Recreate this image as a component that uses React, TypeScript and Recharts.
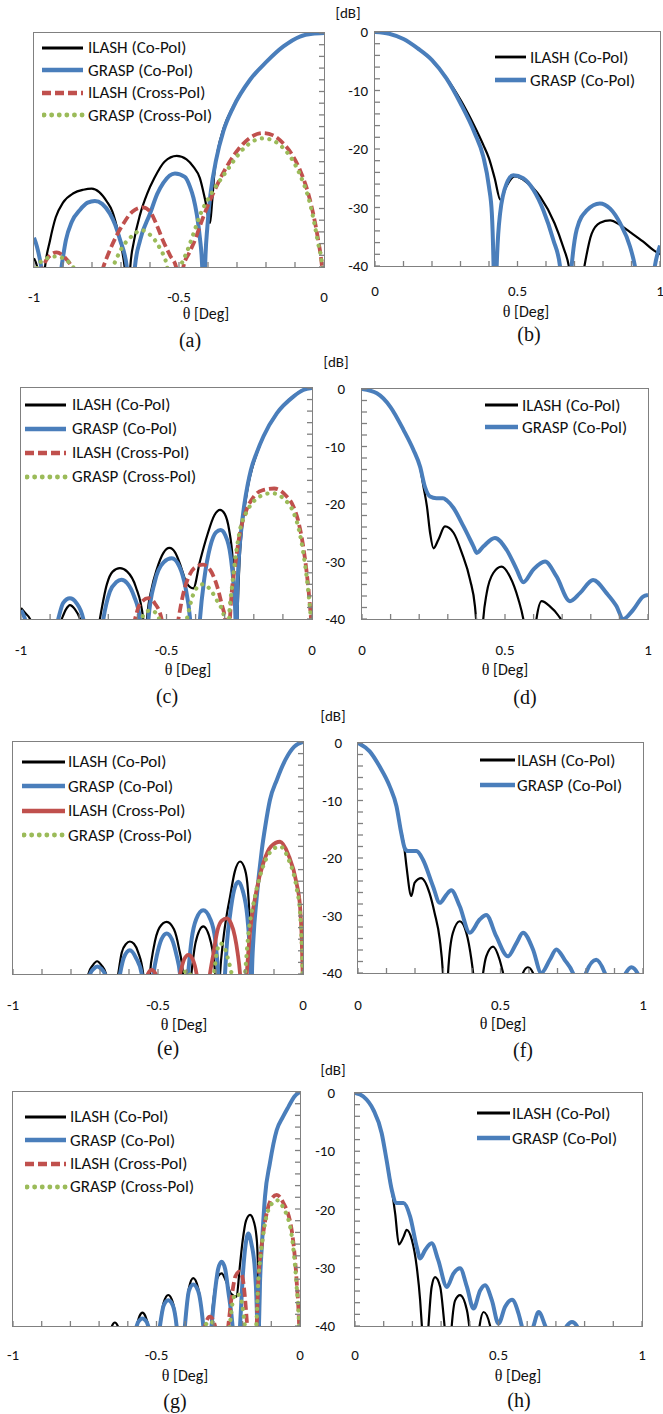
import React from "react";
import { LineChart, Line, XAxis, YAxis, Legend } from "recharts";

type Pt = [number, number];

// ---- tick values ----
const X_TICKS_NEG = [-1, -0.9, -0.8, -0.7, -0.6, -0.5, -0.4, -0.3, -0.2, -0.1, 0];
const X_TICKS_POS = [0, 0.1, 0.2, 0.3, 0.4, 0.5, 0.6, 0.7, 0.8, 0.9, 1];
const X_LABELS_NEG = [-1, -0.5, 0];
const X_LABELS_POS = [0, 0.5, 1];
const Y_TICKS = [0, -2, -4, -6, -8, -10, -12, -14, -16, -18, -20, -22, -24, -26, -28, -30, -32, -34, -36, -38, -40];
const Y_LABELS = [0, -10, -20, -30, -40];

// ---- (a) ----
const aIlashCo: Pt[] = [[-1,-38.5],[-0.985,-41],[-0.975,-48],[-0.962,-40],[-0.945,-35.5],[-0.925,-31.5],[-0.9,-29],[-0.864,-27.4],[-0.83,-26.8],[-0.801,-26.6],[-0.775,-27.2],[-0.749,-28.8],[-0.73,-30.5],[-0.715,-33],[-0.695,-37.5],[-0.684,-42],[-0.676,-50],[-0.668,-40],[-0.655,-35.5],[-0.634,-31],[-0.61,-27.5],[-0.585,-24.8],[-0.55,-22],[-0.508,-21],[-0.474,-21.6],[-0.45,-22.9],[-0.428,-24.8],[-0.41,-28.5],[-0.393,-32.5],[-0.386,-29],[-0.378,-24],[-0.366,-20],[-0.347,-16.4],[-0.313,-12.5],[-0.255,-8],[-0.198,-4.9],[-0.14,-2.3],[-0.083,-0.6],[-0.04,-0.12],[0,0]];
const aGraspCo: Pt[] = [[-1,-35],[-0.99,-36.5],[-0.975,-40],[-0.94,-55],[-0.905,-40],[-0.89,-35.4],[-0.87,-32.3],[-0.841,-30.2],[-0.815,-29],[-0.79,-28.7],[-0.765,-29.2],[-0.738,-30.9],[-0.72,-32.8],[-0.703,-35.4],[-0.68,-40],[-0.666,-55],[-0.652,-40],[-0.634,-35.4],[-0.6,-30.9],[-0.575,-27.5],[-0.554,-25.6],[-0.514,-24],[-0.48,-24.6],[-0.462,-26.3],[-0.45,-28.2],[-0.439,-30.9],[-0.428,-35],[-0.42,-40],[-0.415,-55],[-0.41,-40],[-0.402,-33],[-0.39,-27],[-0.372,-21.7],[-0.347,-16.8],[-0.313,-12.7],[-0.255,-8],[-0.198,-4.9],[-0.14,-2.3],[-0.083,-0.6],[-0.04,-0.12],[0,0]];
const aIlashX: Pt[] = [[-1,-48],[-0.968,-40],[-0.95,-38.3],[-0.922,-37.5],[-0.895,-38.3],[-0.87,-40],[-0.815,-50],[-0.761,-40],[-0.74,-37.3],[-0.715,-34.6],[-0.692,-32.6],[-0.66,-30.5],[-0.625,-29.8],[-0.6,-30.5],[-0.577,-32.8],[-0.555,-35.5],[-0.531,-38],[-0.51,-40],[-0.497,-50],[-0.485,-40],[-0.465,-37.6],[-0.45,-36],[-0.416,-31.4],[-0.382,-27.4],[-0.336,-22.9],[-0.278,-18.9],[-0.245,-17.6],[-0.209,-17.1],[-0.175,-17.5],[-0.14,-18.9],[-0.11,-20.8],[-0.083,-23.4],[-0.048,-28.6],[-0.02,-35.4],[-0.008,-39.4],[0,-44]];
const aGraspX: Pt[] = [[-1,-48],[-0.99,-40],[-0.96,-38.6],[-0.924,-38.2],[-0.89,-38.8],[-0.865,-40],[-0.8,-50],[-0.728,-40],[-0.7,-37],[-0.657,-34.5],[-0.63,-33.7],[-0.6,-34.5],[-0.566,-36.8],[-0.541,-40],[-0.518,-50],[-0.493,-40],[-0.474,-37.6],[-0.45,-34.3],[-0.428,-31.2],[-0.39,-27.6],[-0.336,-23.6],[-0.278,-19.8],[-0.245,-18.5],[-0.209,-18],[-0.175,-18.4],[-0.14,-19.7],[-0.11,-21.6],[-0.083,-24.2],[-0.048,-29.2],[-0.02,-36],[-0.006,-40],[0,-44]];

// ---- (b) ----
const bIlashCo: Pt[] = [[0,0],[0.05,-0.3],[0.1,-1.2],[0.15,-2.8],[0.2,-4.9],[0.25,-7.8],[0.3,-11.6],[0.35,-16.2],[0.38,-19.3],[0.4,-21.6],[0.42,-25],[0.44,-28.7],[0.46,-26.5],[0.49,-24.7],[0.53,-25.6],[0.58,-28.2],[0.63,-32.7],[0.66,-36.7],[0.68,-40],[0.705,-50],[0.735,-40],[0.76,-34.5],[0.79,-32.6],[0.825,-32.2],[0.86,-33],[0.895,-34.2],[0.94,-35.8],[0.977,-37.3],[1,-38]];
const bGraspCo: Pt[] = [[0,0],[0.05,-0.3],[0.1,-1.2],[0.15,-2.8],[0.2,-4.8],[0.25,-7.9],[0.3,-12.2],[0.35,-17.3],[0.38,-21.3],[0.4,-26.5],[0.41,-31],[0.416,-40],[0.421,-55],[0.427,-40],[0.439,-31],[0.462,-25.9],[0.485,-24.5],[0.52,-25],[0.556,-27],[0.591,-30.5],[0.626,-35.6],[0.649,-40],[0.67,-55],[0.69,-40],[0.708,-33.7],[0.743,-30.5],[0.789,-29.3],[0.825,-30.2],[0.86,-32.7],[0.895,-36.7],[0.912,-40],[0.95,-55],[0.982,-40],[1,-36.5]];

// ---- (c) ----
const cIlashCo: Pt[] = [[-1,-38.1],[-0.985,-39],[-0.969,-40],[-0.93,-50],[-0.86,-40],[-0.845,-38.3],[-0.832,-37.6],[-0.815,-38.3],[-0.797,-40],[-0.76,-50],[-0.729,-40],[-0.705,-34],[-0.685,-31.8],[-0.66,-31.2],[-0.635,-31.8],[-0.605,-34.5],[-0.58,-40],[-0.574,-50],[-0.567,-40],[-0.55,-34.5],[-0.534,-31.5],[-0.51,-28.5],[-0.49,-27.7],[-0.47,-28.5],[-0.45,-31],[-0.431,-33.8],[-0.408,-34.7],[-0.385,-30],[-0.36,-25.5],[-0.335,-22],[-0.316,-21.1],[-0.3,-21.8],[-0.285,-24.5],[-0.272,-30],[-0.264,-38],[-0.26,-50],[-0.255,-38],[-0.249,-30],[-0.24,-24],[-0.228,-19.5],[-0.218,-16.5],[-0.205,-13.8],[-0.187,-11],[-0.165,-8.2],[-0.12,-4.3],[-0.064,-1.4],[-0.03,-0.3],[0,0]];
const cGraspCo: Pt[] = [[-1,-38.5],[-0.99,-39.5],[-0.975,-42],[-0.93,-55],[-0.872,-40],[-0.855,-37.2],[-0.832,-36.4],[-0.81,-37.2],[-0.786,-40],[-0.75,-55],[-0.717,-40],[-0.695,-35.3],[-0.672,-33.6],[-0.655,-33.2],[-0.635,-33.8],[-0.612,-36],[-0.591,-40],[-0.576,-55],[-0.562,-40],[-0.54,-33.5],[-0.51,-30.2],[-0.482,-29.5],[-0.455,-31],[-0.435,-34.5],[-0.419,-40],[-0.402,-55],[-0.385,-40],[-0.37,-33],[-0.35,-27.5],[-0.33,-25],[-0.314,-24.6],[-0.298,-25.5],[-0.28,-29],[-0.268,-35],[-0.263,-40],[-0.26,-52],[-0.258,-38],[-0.252,-30],[-0.243,-24.5],[-0.232,-20],[-0.222,-17],[-0.21,-14.2],[-0.19,-11.2],[-0.167,-8.4],[-0.121,-4.4],[-0.064,-1.5],[-0.03,-0.35],[0,0]];
const cIlashX: Pt[] = [[-0.64,-50],[-0.608,-40],[-0.59,-37.3],[-0.562,-36.4],[-0.54,-37.3],[-0.517,-40],[-0.49,-50],[-0.459,-40],[-0.445,-36.2],[-0.43,-33.5],[-0.4,-31],[-0.374,-30.6],[-0.35,-31.5],[-0.325,-34.5],[-0.31,-37.5],[-0.299,-40],[-0.29,-50],[-0.282,-40],[-0.276,-35.5],[-0.265,-31],[-0.248,-25.2],[-0.225,-21.1],[-0.2,-18.8],[-0.17,-17.7],[-0.13,-17.4],[-0.09,-18.6],[-0.064,-20.5],[-0.045,-23.5],[-0.03,-27.5],[-0.013,-34.4],[0,-42]];
const cGraspX: Pt[] = [[-0.6,-50],[-0.585,-40],[-0.57,-38.8],[-0.555,-38.5],[-0.54,-38.8],[-0.525,-40],[-0.48,-50],[-0.43,-40],[-0.41,-36],[-0.39,-34.3],[-0.375,-34],[-0.355,-34.6],[-0.33,-36.5],[-0.3,-40],[-0.292,-50],[-0.285,-40],[-0.275,-34.5],[-0.262,-29],[-0.245,-24],[-0.225,-21.5],[-0.18,-18.8],[-0.139,-18.2],[-0.09,-19.5],[-0.064,-21.5],[-0.045,-24.5],[-0.03,-28.5],[-0.013,-35],[0,-42]];

// ---- (d) ----
const dIlashCo: Pt[] = [[0,0],[0.052,-0.75],[0.099,-3.1],[0.145,-7.1],[0.18,-10.6],[0.203,-13.6],[0.215,-17],[0.227,-20.4],[0.238,-25],[0.25,-27.7],[0.267,-26.2],[0.29,-23.9],[0.32,-25],[0.349,-28.5],[0.378,-33.2],[0.395,-37.8],[0.402,-42],[0.413,-50],[0.424,-40],[0.436,-35.5],[0.459,-32],[0.488,-30.9],[0.517,-32.6],[0.547,-36.6],[0.564,-40],[0.59,-50],[0.61,-40],[0.628,-36.9],[0.657,-37.8],[0.685,-39.3],[0.703,-41],[0.72,-50]];
const dGraspCo: Pt[] = [[0,0],[0.052,-0.75],[0.099,-3.1],[0.145,-7.1],[0.18,-10.6],[0.203,-13.5],[0.22,-17],[0.238,-18.7],[0.26,-19],[0.283,-19],[0.297,-19.4],[0.32,-20.7],[0.355,-23.9],[0.39,-27.4],[0.401,-28.5],[0.424,-27.4],[0.465,-25.9],[0.506,-28],[0.541,-31.4],[0.564,-33.6],[0.599,-31.4],[0.64,-30],[0.68,-32.6],[0.727,-36.9],[0.762,-35.5],[0.808,-33.2],[0.855,-35.5],[0.89,-37.8],[0.913,-40],[0.948,-38.4],[0.983,-36.1],[1,-35.8]];

// ---- (e) ----
const eIlashCo: Pt[] = [[-0.76,-50],[-0.74,-40],[-0.725,-38.5],[-0.71,-37.8],[-0.695,-38.5],[-0.679,-40],[-0.66,-50],[-0.637,-40],[-0.625,-36.3],[-0.61,-34.8],[-0.597,-34.4],[-0.583,-34.8],[-0.568,-36.3],[-0.551,-40],[-0.54,-50],[-0.528,-40],[-0.515,-35.5],[-0.495,-32],[-0.47,-31],[-0.445,-32.3],[-0.428,-35.5],[-0.414,-40],[-0.403,-50],[-0.385,-40],[-0.37,-34.5],[-0.344,-31.8],[-0.318,-34.5],[-0.303,-40],[-0.295,-50],[-0.286,-40],[-0.275,-34.1],[-0.262,-29.5],[-0.252,-26.8],[-0.235,-22.3],[-0.217,-20.6],[-0.2,-22],[-0.19,-25.5],[-0.184,-31],[-0.18,-40],[-0.178,-52],[-0.176,-40],[-0.171,-34],[-0.16,-27],[-0.142,-18.6],[-0.13,-14.5],[-0.114,-10],[-0.09,-6.5],[-0.06,-3],[-0.03,-0.8],[0,0]];
const eGraspCo: Pt[] = [[-0.75,-50],[-0.734,-40],[-0.722,-39.1],[-0.709,-38.7],[-0.696,-39.1],[-0.683,-40],[-0.66,-50],[-0.631,-40],[-0.618,-37.2],[-0.597,-35.9],[-0.576,-37.2],[-0.556,-40],[-0.54,-50],[-0.516,-40],[-0.504,-36.8],[-0.488,-34],[-0.47,-33],[-0.452,-34],[-0.436,-36.8],[-0.424,-40],[-0.41,-50],[-0.396,-40],[-0.384,-34],[-0.368,-30.5],[-0.344,-29],[-0.32,-30.5],[-0.303,-34],[-0.292,-40],[-0.28,-50],[-0.269,-40],[-0.262,-34.5],[-0.252,-30],[-0.238,-25.6],[-0.223,-24.1],[-0.208,-25.6],[-0.192,-30.1],[-0.185,-34.5],[-0.18,-40],[-0.178,-52],[-0.176,-40],[-0.171,-34],[-0.16,-27],[-0.142,-18.6],[-0.13,-14.5],[-0.114,-10],[-0.09,-6.5],[-0.06,-3],[-0.03,-0.8],[0,0]];
const eIlashX: Pt[] = [[-0.55,-50],[-0.535,-40],[-0.522,-39.3],[-0.508,-40],[-0.46,-50],[-0.424,-40],[-0.41,-37.5],[-0.395,-36.7],[-0.38,-37.5],[-0.367,-40],[-0.345,-50],[-0.321,-40],[-0.309,-36.5],[-0.295,-32.5],[-0.28,-30.8],[-0.263,-30.4],[-0.248,-31.3],[-0.235,-33.5],[-0.225,-36.5],[-0.217,-40],[-0.205,-50],[-0.194,-40],[-0.183,-33],[-0.16,-25.5],[-0.137,-20.9],[-0.11,-18],[-0.079,-17.2],[-0.05,-19.5],[-0.022,-24.4],[-0.01,-28.5],[-0.005,-33],[0,-42]];
const eGraspX: Pt[] = [[-0.43,-50],[-0.41,-40],[-0.4,-39.4],[-0.39,-40],[-0.35,-50],[-0.307,-40],[-0.298,-36.5],[-0.286,-34.7],[-0.272,-35.3],[-0.258,-37.5],[-0.246,-40],[-0.22,-50],[-0.2,-40],[-0.19,-34],[-0.165,-26.5],[-0.14,-21.8],[-0.11,-18.8],[-0.079,-18],[-0.05,-20.2],[-0.022,-25.2],[-0.01,-29.5],[-0.005,-34],[0,-42]];

// ---- (f) ----
const fIlashCo: Pt[] = [[0,0],[0.041,-1.45],[0.076,-4.1],[0.111,-7.5],[0.135,-11],[0.152,-15.5],[0.162,-18],[0.17,-21.4],[0.187,-26.6],[0.199,-24.3],[0.222,-23.5],[0.251,-26.1],[0.269,-29.6],[0.287,-34.2],[0.298,-40],[0.307,-50],[0.316,-40],[0.333,-33],[0.357,-31],[0.38,-33],[0.398,-37.7],[0.404,-40],[0.42,-50],[0.439,-40],[0.45,-37.1],[0.474,-35.4],[0.497,-37.7],[0.509,-40],[0.55,-50],[0.579,-40],[0.596,-39],[0.614,-40],[0.64,-50]];
const fGraspCo: Pt[] = [[0,0],[0.041,-1.45],[0.076,-4.1],[0.111,-7.5],[0.135,-11],[0.152,-15.7],[0.164,-18.3],[0.175,-18.8],[0.205,-18.8],[0.228,-20.3],[0.263,-24.9],[0.287,-27.8],[0.31,-26.4],[0.327,-25.6],[0.357,-28.4],[0.392,-33],[0.427,-30.7],[0.45,-29.9],[0.485,-33.6],[0.526,-37.1],[0.556,-34.8],[0.579,-33],[0.614,-35.9],[0.643,-40],[0.673,-37.7],[0.696,-35.9],[0.725,-37.7],[0.754,-40],[0.777,-44],[0.8,-40],[0.836,-37.7],[0.866,-40],[0.9,-46],[0.94,-40],[0.959,-39],[0.98,-40],[1,-43]];

// ---- (g) ----
const gIlashCo: Pt[] = [[-0.665,-50],[-0.655,-40],[-0.645,-39.4],[-0.635,-40],[-0.6,-50],[-0.569,-40],[-0.559,-38.3],[-0.549,-37.7],[-0.539,-38.3],[-0.529,-40],[-0.51,-50],[-0.488,-40],[-0.475,-36],[-0.459,-34.7],[-0.443,-36],[-0.43,-40],[-0.415,-50],[-0.401,-40],[-0.387,-33.5],[-0.372,-31.8],[-0.355,-33.5],[-0.337,-40],[-0.322,-50],[-0.31,-40],[-0.296,-33.5],[-0.285,-31.5],[-0.273,-31],[-0.258,-32.3],[-0.24,-34.5],[-0.221,-35],[-0.21,-30],[-0.2,-25.5],[-0.188,-22],[-0.174,-21],[-0.16,-22.3],[-0.15,-25.6],[-0.146,-31],[-0.143,-40],[-0.141,-52],[-0.139,-32.1],[-0.133,-26.4],[-0.122,-17.9],[-0.105,-12.2],[-0.081,-6.5],[-0.06,-4.3],[-0.04,-2.5],[-0.02,-0.8],[0,0]];
const gGraspCo: Pt[] = [[-0.59,-50],[-0.569,-40],[-0.559,-39],[-0.549,-38.7],[-0.539,-39],[-0.529,-40],[-0.51,-50],[-0.488,-40],[-0.475,-36.5],[-0.459,-35.6],[-0.443,-36.5],[-0.43,-40],[-0.415,-50],[-0.401,-40],[-0.387,-34],[-0.372,-32.9],[-0.355,-34],[-0.337,-40],[-0.322,-50],[-0.308,-40],[-0.296,-34],[-0.285,-30.2],[-0.273,-29],[-0.261,-30.2],[-0.25,-34],[-0.235,-40],[-0.222,-50],[-0.209,-40],[-0.198,-30.5],[-0.19,-26.3],[-0.18,-24.2],[-0.169,-26],[-0.157,-30.5],[-0.149,-40],[-0.146,-52],[-0.143,-40],[-0.139,-32.1],[-0.133,-26.4],[-0.122,-17.9],[-0.105,-12.2],[-0.081,-6.5],[-0.06,-4.3],[-0.04,-2.5],[-0.02,-0.8],[0,0]];
const gIlashX: Pt[] = [[-0.35,-50],[-0.331,-40],[-0.314,-38.4],[-0.296,-40],[-0.275,-50],[-0.25,-40],[-0.238,-35],[-0.225,-31.5],[-0.211,-30.7],[-0.2,-31.8],[-0.192,-35],[-0.184,-40],[-0.17,-50],[-0.151,-40],[-0.145,-32.1],[-0.134,-26.4],[-0.116,-20.7],[-0.1,-18.3],[-0.081,-17.6],[-0.06,-18.8],[-0.029,-23.6],[-0.012,-32.1],[-0.003,-40],[0,-45]];
const gGraspX: Pt[] = [[-0.35,-50],[-0.331,-40],[-0.314,-39.2],[-0.296,-40],[-0.27,-50],[-0.245,-40],[-0.233,-35.5],[-0.221,-34.4],[-0.205,-35.5],[-0.192,-40],[-0.17,-50],[-0.152,-40],[-0.146,-33],[-0.136,-27.5],[-0.118,-21.5],[-0.1,-19.2],[-0.081,-18.5],[-0.06,-19.6],[-0.029,-24.5],[-0.012,-33],[-0.003,-40],[0,-45]];

// ---- (h) ----
const hIlashCo: Pt[] = [[0,0],[0.029,-0.6],[0.064,-2.9],[0.093,-6.9],[0.11,-11.5],[0.128,-16.6],[0.14,-20.7],[0.153,-26],[0.169,-24.7],[0.18,-23.5],[0.198,-25.2],[0.215,-29.8],[0.227,-35.6],[0.233,-40],[0.245,-50],[0.256,-40],[0.267,-33.3],[0.279,-31.6],[0.297,-33.3],[0.308,-37.9],[0.312,-40],[0.325,-50],[0.337,-40],[0.349,-35.6],[0.366,-34.7],[0.39,-37.3],[0.398,-40],[0.415,-50],[0.434,-40],[0.448,-37.6],[0.471,-40],[0.5,-50]];
const hGraspCo: Pt[] = [[0,0],[0.029,-0.6],[0.064,-2.9],[0.093,-6.9],[0.11,-11.5],[0.128,-16.6],[0.145,-18.9],[0.169,-18.9],[0.192,-21.2],[0.215,-26.4],[0.227,-28.4],[0.244,-27],[0.267,-25.8],[0.29,-28.7],[0.32,-33.3],[0.343,-31],[0.366,-30.1],[0.39,-33.3],[0.413,-37],[0.436,-33.9],[0.453,-33],[0.477,-35.6],[0.5,-39.6],[0.523,-36.7],[0.547,-35.5],[0.57,-37.9],[0.581,-40],[0.6,-44],[0.622,-40],[0.64,-37.6],[0.663,-40],[0.7,-45],[0.738,-40],[0.756,-39.3],[0.773,-40],[0.8,-45]];

// ---- styles ----
const SANS = "Carlito, Lato, 'Open Sans', sans-serif";
const SERIF = "'Liberation Serif', 'DejaVu Serif', serif";
const FRAME = "#808080";

type SeriesStyle = { name: string; color: string; width: number; dash?: string; cap?: "round" | "butt" };
const ILASH_CO: SeriesStyle = { name: "ILASH (Co-Pol)", color: "#000000", width: 2.2 };
const GRASP_CO: SeriesStyle = { name: "GRASP (Co-Pol)", color: "#4a7ebb", width: 4 };
const ILASH_X: SeriesStyle = { name: "ILASH (Cross-Pol)", color: "#c0504d", width: 3.8, dash: "9 4" };
const ILASH_X_SOLID: SeriesStyle = { name: "ILASH (Cross-Pol)", color: "#c0504d", width: 3.8 };
const GRASP_X: SeriesStyle = { name: "GRASP (Cross-Pol)", color: "#9bbb59", width: 4.2, dash: "0.1 7.5", cap: "round" };

type LegendPos = { x: number; len: number; tx: number; y0: number; step: number };
type PanelDef = {
  neg: boolean;
  frame: [number, number, number, number];
  series: [SeriesStyle, Pt[]][];
  legend: LegendPos;
  xLabDy: number;
  yLabEnd?: number;
  dB?: [number, number];
  title: [number, number];
  cap: [string, number, number];
};

const PANELS: PanelDef[] = [
  { neg: true, frame: [34, 33, 290, 234], series: [[ILASH_CO, aIlashCo], [GRASP_CO, aGraspCo], [ILASH_X, aIlashX], [GRASP_X, aGraspX]],
    legend: { x: 42, len: 43, tx: 88, y0: 48, step: 22.4 }, xLabDy: 30, title: [206, 314], cap: ["(a)", 190, 340] },
  { neg: false, frame: [375, 32, 285, 234], series: [[ILASH_CO, bIlashCo], [GRASP_CO, bGraspCo]],
    legend: { x: 495, len: 33, tx: 530, y0: 57, step: 23 }, xLabDy: 25, yLabEnd: 368, dB: [348, 13], title: [526, 312], cap: ["(b)", 529, 334] },
  { neg: true, frame: [21, 388, 291, 231], series: [[ILASH_CO, cIlashCo], [GRASP_CO, cGraspCo], [ILASH_X, cIlashX], [GRASP_X, cGraspX]],
    legend: { x: 25, len: 43, tx: 72, y0: 405, step: 23.9 }, xLabDy: 31, title: [188, 670], cap: ["(c)", 167, 696] },
  { neg: false, frame: [362, 389, 286, 230], series: [[ILASH_CO, dIlashCo], [GRASP_CO, dGraspCo]],
    legend: { x: 485, len: 35, tx: 522, y0: 405, step: 22 }, xLabDy: 31, yLabEnd: 345, dB: [336, 362], title: [505, 670], cap: ["(d)", 525, 697] },
  { neg: true, frame: [13, 742, 290, 232], series: [[ILASH_CO, eIlashCo], [GRASP_CO, eGraspCo], [ILASH_X_SOLID, eIlashX], [GRASP_X, eGraspX]],
    legend: { x: 22, len: 45, tx: 68, y0: 762, step: 24.4 }, xLabDy: 31, title: [184, 1025], cap: ["(e)", 168, 1048] },
  { neg: false, frame: [358, 743, 285, 230], series: [[ILASH_CO, fIlashCo], [GRASP_CO, fGraspCo]],
    legend: { x: 480, len: 37, tx: 517, y0: 760, step: 25 }, xLabDy: 32, yLabEnd: 342, dB: [333, 716], title: [503, 1024], cap: ["(f)", 523, 1050] },
  { neg: true, frame: [13, 1092, 287, 234], series: [[ILASH_CO, gIlashCo], [GRASP_CO, gGraspCo], [ILASH_X, gIlashX], [GRASP_X, gGraspX]],
    legend: { x: 25, len: 43, tx: 70, y0: 1117, step: 23.3 }, xLabDy: 29, title: [185, 1376], cap: ["(g)", 175, 1401] },
  { neg: false, frame: [355, 1093, 287, 233], series: [[ILASH_CO, hIlashCo], [GRASP_CO, hGraspCo]],
    legend: { x: 477, len: 35, tx: 512, y0: 1113, step: 25 }, xLabDy: 29, yLabEnd: 335, dB: [333, 1070], title: [518, 1376], cap: ["(h)", 519, 1400] },
];

const PAD_L = 55, PAD_R = 55, PAD_T = 25, PAD_B = 45;
const TICK = 5;

// tick lines come from the axis itself (negative size points them into the plot);
// these only print the labelled values
const XLabel = ({ x, y, payload, labels, dy }: any) => {
  const v = payload.value;
  if (!labels.some((l: number) => Math.abs(l - v) < 1e-6)) return <g />;
  return (
    <text x={x} y={y + dy} textAnchor="middle" dominantBaseline="central" fontFamily={SANS} fontSize={15} fill="#111">
      {String(v)}
    </text>
  );
};

const YLabel = ({ x, y, payload, show, gap }: any) => {
  const v = payload.value;
  if (!show || !Y_LABELS.includes(v)) return <g />;
  return (
    <text x={x - gap} y={y} textAnchor="end" dominantBaseline="central" fontFamily={SANS} fontSize={15} fill="#111">
      {String(v)}
    </text>
  );
};

const LegendBox = ({ series, lg }: { series: SeriesStyle[]; lg: LegendPos }) => (
  <div style={{ fontFamily: SANS, fontSize: 17, color: "#111" }}>
    {series.map((s) => (
      <div key={s.name} style={{ display: "flex", alignItems: "center", height: lg.step }}>
        <svg width={lg.len} height={8} style={{ display: "block" }}>
          <line x1={s.cap === "round" ? 2 : 0} x2={lg.len - 2} y1={4} y2={4} stroke={s.color}
            strokeWidth={s.width + 0.6} strokeDasharray={s.dash} strokeLinecap={s.cap ?? "butt"} />
        </svg>
        <span style={{ marginLeft: lg.tx - lg.x - lg.len, whiteSpace: "nowrap", lineHeight: 1 }}>{s.name}</span>
      </div>
    ))}
  </div>
);

function Panel({ p }: { p: PanelDef }) {
  const [fx, fy, fw, fh] = p.frame;
  const cx = fx - PAD_L;
  const cy = fy - PAD_T;
  const W = fw + PAD_L + PAD_R;
  const H = fh + PAD_T + PAD_B;
  const dom: [number, number] = p.neg ? [-1, 0] : [0, 1];
  const gap = p.yLabEnd != null ? fx - p.yLabEnd : 8;
  return (
    <div style={{ position: "absolute", left: cx, top: cy, width: W, height: H }}>
      <LineChart width={W} height={H}
        margin={{ top: PAD_T, bottom: 0, left: p.neg ? PAD_L : 0, right: p.neg ? 0 : PAD_R }}>
        <XAxis dataKey="x" type="number" domain={dom} allowDataOverflow ticks={p.neg ? X_TICKS_NEG : X_TICKS_POS}
          interval={0} height={PAD_B} axisLine={false} tickLine={{ stroke: FRAME, strokeWidth: 1.3 }}
          tickSize={-TICK} tickMargin={TICK}
          tick={(t: any) => <XLabel {...t} labels={p.neg ? X_LABELS_NEG : X_LABELS_POS} dy={p.xLabDy} />} />
        <YAxis type="number" domain={[-40, 0]} allowDataOverflow ticks={Y_TICKS} interval={0}
          orientation={p.neg ? "right" : "left"} width={p.neg ? PAD_R : PAD_L}
          axisLine={false} tickLine={{ stroke: FRAME, strokeWidth: 1.3 }} tickSize={-TICK} tickMargin={TICK}
          tick={(t: any) => <YLabel {...t} show={!p.neg} gap={gap} />} />
        {p.series.map(([s, pts], i) => (
          <Line key={i} data={pts.map(([x, y]) => ({ x, y }))} dataKey="y" type="monotone"
            stroke={s.color} strokeWidth={s.width} strokeDasharray={s.dash} strokeLinecap={s.cap ?? "butt"}
            dot={false} activeDot={false} isAnimationActive={false} legendType="none" />
        ))}
        <Legend layout="vertical" align="center" verticalAlign="middle"
          wrapperStyle={{ left: p.legend.x - cx, top: p.legend.y0 - p.legend.step / 2 - cy, width: "auto", height: "auto" }}
          content={() => <LegendBox series={p.series.map((s) => s[0])} lg={p.legend} />} />
      </LineChart>
    </div>
  );
}

// plot-area border, laid over the chart so nothing can paint over it
const Frame = ({ p }: { p: PanelDef }) => {
  const [fx, fy, fw, fh] = p.frame;
  return (
    <div style={{ position: "absolute", left: fx - 0.75, top: fy - 0.75, width: fw + 1.5, height: fh + 1.5,
      boxSizing: "border-box", border: `1.5px solid ${FRAME}`, zIndex: 10, pointerEvents: "none" }} />
  );
};

const Txt = ({ x, y, children, style }: any) => (
  <div style={{ position: "absolute", left: x, top: y, transform: "translate(-50%, -50%)", whiteSpace: "nowrap", lineHeight: 1, zIndex: 11, ...style }}>
    {children}
  </div>
);

export default function App() {
  return (
    <div style={{ position: "absolute", left: 0, top: 0, width: 663, height: 1414, overflow: "hidden", background: "#fff" }}>
      {PANELS.map((p, i) => <Panel key={i} p={p} />)}
      {PANELS.map((p, i) => <Frame key={"f" + i} p={p} />)}
      {PANELS.map((p, i) => (
        <React.Fragment key={"t" + i}>
          <Txt x={p.title[0]} y={p.title[1]} style={{ fontFamily: SANS, fontSize: 16, color: "#111" }}>
            <span style={{ fontFamily: SERIF }}>θ</span> [Deg]
          </Txt>
          <Txt x={p.cap[1]} y={p.cap[2]} style={{ fontFamily: SERIF, fontSize: 20, color: "#111" }}>{p.cap[0]}</Txt>
          {p.dB && <Txt x={p.dB[0]} y={p.dB[1]} style={{ fontFamily: SANS, fontSize: 15, color: "#111" }}>[dB]</Txt>}
        </React.Fragment>
      ))}
    </div>
  );
}
